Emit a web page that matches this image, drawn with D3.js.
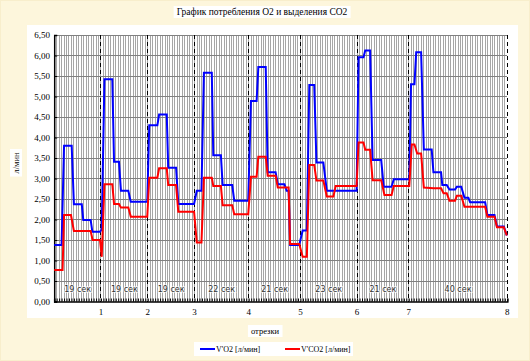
<!DOCTYPE html>
<html lang="ru">
<head>
  <meta charset="UTF-8">
  <title>График потребления О2 и выделения СО2</title>
  <script src="https://d3js.org/d3.v7.min.js"></script>
  <style>
    body { margin: 0; background: #fdf6dc; }
    svg { display: block; }
  </style>
</head>
<body>
<div id="chart"></div>
<script>
// длительность отрезков (сек) и подписи
const segmentSeconds = [19, 19, 19, 22, 21, 23, 21, 40];
const segmentLabels = ["19 сек", "19 сек", "19 сек", "22 сек", "21 сек", "23 сек", "21 сек", "40 сек"];
const segmentTicks = ["1", "2", "3", "4", "5", "6", "7", "8"];
const yTicks = [0, 0.5, 1, 1.5, 2, 2.5, 3, 3.5, 4, 4.5, 5, 5.5, 6, 6.5];

// V'O2 [л/мин]: [время, сек ; значение]
const o2Points = [
  [0, 1.38], [3.0, 1.38], [4.0, 3.80], [7.1, 3.80], [8.0, 2.37], [11.2, 2.37], [11.8, 1.99], [14.8, 1.99],
  [15.5, 1.70], [18.6, 1.70], [19.3, 1.76], [20.4, 5.42], [23.6, 5.42], [24.3, 3.41], [26.3, 3.41],
  [27.1, 2.70], [30.1, 2.70], [31.1, 2.43], [37.8, 2.43], [38.6, 4.30], [41.9, 4.30], [42.6, 4.56],
  [45.7, 4.56], [46.3, 3.26], [49.5, 3.26], [50.4, 2.38], [56.8, 2.38], [57.9, 2.70], [59.8, 2.70],
  [60.8, 5.58], [64.0, 5.58], [64.6, 3.57], [67.7, 3.57], [68.4, 2.84], [72.3, 2.84], [73.1, 2.46],
  [78.8, 2.46], [79.9, 4.89], [82.2, 4.89], [82.9, 5.72], [85.9, 5.72], [86.7, 3.15], [89.9, 3.15],
  [90.8, 2.86], [93.5, 2.86], [94.4, 2.70], [95.2, 2.70], [95.8, 1.38], [99.5, 1.38], [100.9, 1.73],
  [102.6, 1.73], [103.6, 5.28], [105.6, 5.28], [106.5, 3.39], [109.3, 3.39], [110.7, 2.70], [122.8, 2.70],
  [123.6, 5.96], [125.6, 5.96], [126.3, 6.12], [128.3, 6.12], [129.3, 3.45], [132.8, 3.45], [133.8, 2.80],
  [137.0, 2.80], [137.9, 2.98], [144.2, 2.98], [144.9, 5.30], [146.3, 5.30], [147.0, 6.08], [149.0, 6.08],
  [150.1, 3.71], [153.3, 3.71], [154.0, 3.15], [157.1, 3.15], [157.6, 2.84], [159.4, 2.84], [160.5, 2.73],
  [162.8, 2.73], [163.5, 2.80], [165.3, 2.80], [166.6, 2.53], [168.2, 2.53], [168.9, 2.42], [175.0, 2.42],
  [175.9, 2.11], [178.8, 2.11], [179.8, 1.83], [182.6, 1.83], [183.8, 1.61]
];

// V'CO2 [л/мин]
const co2Points = [
  [0, 0.77], [3.4, 0.77], [4.0, 2.11], [6.8, 2.11], [8.0, 1.72], [14.8, 1.72], [15.6, 1.50], [18.6, 1.50],
  [19.3, 1.09], [20.4, 2.86], [23.6, 2.86], [24.3, 2.38], [26.3, 2.38], [27.1, 2.29], [30.1, 2.29],
  [31.1, 2.07], [37.8, 2.07], [38.6, 3.02], [41.9, 3.02], [42.6, 3.25], [45.7, 3.25], [46.3, 2.84],
  [49.5, 2.84], [50.4, 2.19], [56.8, 2.19], [57.9, 1.44], [59.8, 1.44], [60.8, 3.02], [64.0, 3.02],
  [64.6, 2.82], [67.7, 2.82], [68.4, 2.35], [72.3, 2.35], [73.1, 2.13], [78.8, 2.13], [79.9, 3.04],
  [82.2, 3.04], [82.9, 3.53], [85.9, 3.53], [86.7, 3.07], [89.9, 3.07], [90.8, 2.78], [95.2, 2.78],
  [95.8, 1.40], [99.5, 1.40], [100.9, 1.09], [102.6, 1.09], [103.6, 3.33], [105.6, 3.33], [106.5, 2.95],
  [109.3, 2.95], [110.7, 2.56], [113.4, 2.56], [114.3, 2.82], [122.8, 2.82], [123.6, 3.88], [125.6, 3.88],
  [126.3, 3.70], [128.3, 3.70], [129.3, 2.96], [132.8, 2.96], [134.1, 2.60], [137.0, 2.60], [137.9, 2.82],
  [144.2, 2.82], [145.2, 3.83], [146.3, 3.83], [147.4, 3.61], [149.0, 3.61], [150.1, 2.78], [154.0, 2.76],
  [157.1, 2.76], [158.1, 2.64], [159.4, 2.64], [160.5, 2.46], [162.8, 2.46], [163.5, 2.58], [165.3, 2.58],
  [166.6, 2.31], [175.0, 2.31], [175.9, 2.07], [178.8, 2.07], [179.8, 1.81], [182.6, 1.81], [183.8, 1.61]
];

const W = 530, H = 361;
const serif = "'Liberation Serif', 'Times New Roman', serif";

const svg = d3.select("#chart").append("svg")
  .attr("width", W)
  .attr("height", H);

// фон
svg.append("rect").attr("x", 0.5).attr("y", 0.5).attr("width", W - 1).attr("height", H - 1)
  .attr("fill", "#fdf6dc").attr("stroke", "#f3e7bd").attr("stroke-dasharray", "1,1");
svg.append("rect").attr("x", 27).attr("y", 25).attr("width", 491).attr("height", 293)
  .attr("fill", "#fff");

const boundaries = Array.from(d3.cumsum(segmentSeconds));
const starts = [0].concat(boundaries.slice(0, -1));
const totalSec = boundaries[boundaries.length - 1];

const x = d3.scaleLinear().domain([0, totalSec]).range([54.2, 507.3]);
const y = d3.scaleLinear().domain([0, 6.5]).range([301.5, 35]);

// сетка: вертикальные линии каждую секунду
svg.append("g")
  .selectAll("line")
  .data(d3.range(1, totalSec))
  .join("line")
  .attr("x1", d => x(d)).attr("x2", d => x(d))
  .attr("y1", y(6.5)).attr("y2", y(0))
  .attr("stroke", "#a6a6a6")
  .attr("shape-rendering", "crispEdges");

// горизонтальные линии
svg.append("g")
  .selectAll("line")
  .data(yTicks.slice(1))
  .join("line")
  .attr("x1", x(0)).attr("x2", x(totalSec))
  .attr("y1", d => y(d)).attr("y2", d => y(d))
  .attr("stroke", "#808080")
  .attr("shape-rendering", "crispEdges");

// границы отрезков
svg.append("g")
  .selectAll("line")
  .data(boundaries)
  .join("line")
  .attr("x1", d => x(d)).attr("x2", d => x(d))
  .attr("y1", y(6.5)).attr("y2", y(0))
  .attr("stroke", "#000")
  .attr("stroke-dasharray", "4,3")
  .attr("shape-rendering", "crispEdges");

// подписи отрезков
svg.append("g")
  .selectAll("text")
  .data(segmentLabels)
  .join("text")
  .attr("x", (d, i) => x((starts[i] + boundaries[i]) / 2))
  .attr("y", 292)
  .attr("text-anchor", "middle")
  .attr("font-family", "'DejaVu Sans', sans-serif")
  .attr("font-size", 8)
  .attr("fill", "#333")
  .attr("stroke", "#fff")
  .attr("stroke-width", 2)
  .attr("stroke-opacity", 0.6)
  .attr("paint-order", "stroke")
  .text(d => d);

// оси
const yAxis = svg.append("g")
  .attr("transform", `translate(${x(0)},0)`)
  .call(d3.axisRight(y).tickValues(yTicks).tickSize(3).tickFormat(""));
yAxis.select(".domain").attr("stroke-width", 1.5);

svg.append("g")
  .selectAll("text")
  .data(yTicks)
  .join("text")
  .attr("x", 50)
  .attr("y", d => y(d) + 3)
  .attr("text-anchor", "end")
  .attr("font-family", serif)
  .attr("font-size", 9)
  .attr("fill", "#000")
  .text(d => d3.format(".2f")(d).replace(".", ","));

const xAxis = svg.append("g")
  .attr("transform", `translate(0,${y(0)})`)
  .call(d3.axisTop(x).tickValues(d3.range(0, totalSec + 1)).tickSize(3).tickFormat(""));
xAxis.select(".domain").attr("stroke-width", 1.5);

svg.append("g")
  .selectAll("text")
  .data(segmentTicks)
  .join("text")
  .attr("x", (d, i) => x(boundaries[i]))
  .attr("y", 315)
  .attr("text-anchor", "middle")
  .attr("font-family", serif)
  .attr("font-size", 9)
  .text(d => d);

// линии данных
const line = d3.line().x(d => x(d[0])).y(d => y(d[1]));

svg.append("path")
  .datum(o2Points)
  .attr("d", line)
  .attr("fill", "none")
  .attr("stroke", "#0000ff")
  .attr("stroke-width", 2);

svg.append("path")
  .datum(co2Points)
  .attr("d", line)
  .attr("fill", "none")
  .attr("stroke", "#ff0000")
  .attr("stroke-width", 2);

// текст в белой рамке
function labelBox(tx, ty, text, size, rotate) {
  const g = svg.append("g").attr("transform", `translate(${tx},${ty})` + (rotate ? " rotate(-90)" : ""));
  const t = g.append("text")
    .attr("text-anchor", "middle")
    .attr("font-family", serif)
    .attr("font-size", size)
    .attr("fill", "#000")
    .text(text);
  const b = t.node().getBBox();
  g.insert("rect", "text")
    .attr("x", b.x - 3).attr("y", b.y - 1)
    .attr("width", b.width + 6).attr("height", b.height + 2)
    .attr("fill", "#fff");
  return g;
}

labelBox(262, 15, "График потребления О2 и выделения СО2", 9.5);
labelBox(19, 163, "л/мин", 8.5, true);
labelBox(265, 334, "отрезки", 8.5);

// легенда
const legend = svg.append("g");
legend.append("rect").attr("x", 194).attr("y", 342).attr("width", 159).attr("height", 14).attr("fill", "#fff");
const items = [
  { name: "V'O2 [л/мин]", color: "#0000ff", x0: 200 },
  { name: "V'CO2 [л/мин]", color: "#ff0000", x0: 285 }
];
items.forEach(it => {
  legend.append("line")
    .attr("x1", it.x0).attr("x2", it.x0 + 15)
    .attr("y1", 349).attr("y2", 349)
    .attr("stroke", it.color).attr("stroke-width", 2);
  legend.append("text")
    .attr("x", it.x0 + 16).attr("y", 352)
    .attr("font-family", serif)
    .attr("font-size", 8)
    .text(it.name);
});
</script>
</body>
</html>
